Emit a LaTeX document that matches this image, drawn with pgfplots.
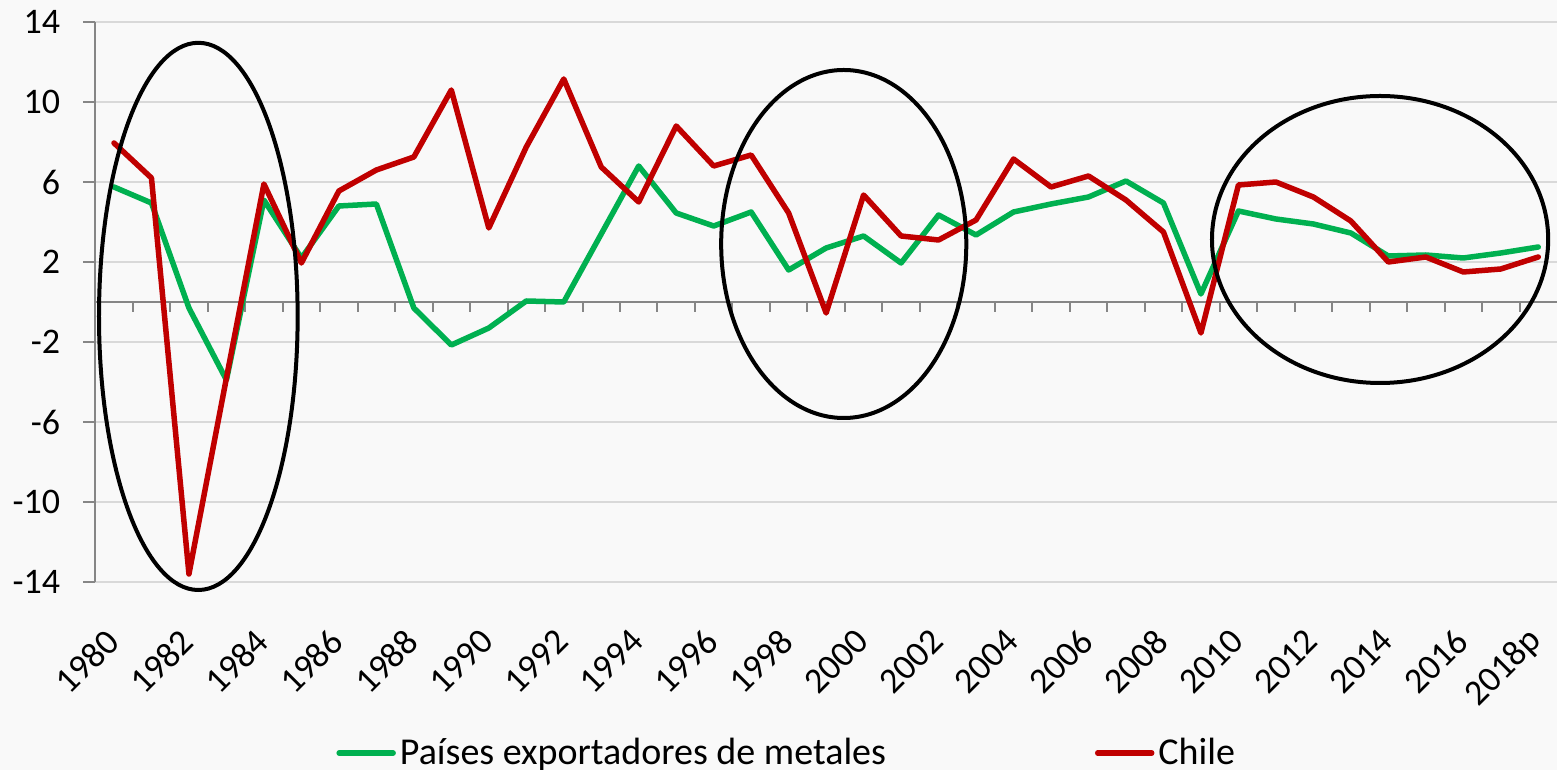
\documentclass[border=0pt]{standalone}
\usepackage{pgfplots}
\pgfplotsset{compat=1.18}
\usepackage{pgfplotstable}
\usepackage{fontspec}
\setmainfont{Carlito}
\definecolor{sgreen}{RGB}{0,176,80}
\definecolor{sred}{RGB}{192,0,0}
\definecolor{gridc}{RGB}{217,217,217}
\definecolor{axisc}{RGB}{134,134,134}
\definecolor{bgc}{RGB}{249,249,249}
\pgfplotstableread{
year g c
1980 5.75 7.95
1981 4.95 6.2
1982 -0.3 -13.6
1983 -3.9 -3.8
1984 5.1 5.9
1985 2.2 1.95
1986 4.8 5.55
1987 4.9 6.6
1988 -0.3 7.25
1989 -2.15 10.6
1990 -1.3 3.7
1991 0.05 7.75
1992 0.0 11.15
1993 3.4 6.75
1994 6.8 5.0
1995 4.45 8.8
1996 3.8 6.8
1997 4.5 7.35
1998 1.6 4.45
1999 2.7 -0.55
2000 3.3 5.35
2001 1.95 3.3
2002 4.35 3.1
2003 3.35 4.1
2004 4.5 7.15
2005 4.9 5.75
2006 5.25 6.3
2007 6.05 5.1
2008 4.95 3.5
2009 0.4 -1.55
2010 4.55 5.85
2011 4.15 6.0
2012 3.9 5.25
2013 3.45 4.05
2014 2.3 2.0
2015 2.35 2.25
2016 2.2 1.5
2017 2.45 1.65
2018 2.75 2.25
}\datatable
\begin{document}
\begin{tikzpicture}
\path[use as bounding box, fill=bgc] (0,0) rectangle (778.5pt,385pt);
\begin{axis}[
  at={(47.625pt,94pt)}, anchor=south west,
  scale only axis, width=730.875pt, height=280pt,
  xmin=1979.5, xmax=2018.5, ymin=-14, ymax=14,
  clip=false,
  axis y line*=left, axis x line*=bottom,
  axis line style={-},
  y axis line style={draw=axisc, line width=1pt},
  x axis line style={draw=gridc, line width=1pt},
  ytick={-14,-10,-6,-2,2,6,10,14},
  yticklabels={\mbox{-14},\mbox{-10},\mbox{-6},\mbox{-2},\mbox{2},\mbox{6},\mbox{10},\mbox{14}},
  xtick={1980,1982,...,2018},
  xticklabels={1980,1982,1984,1986,1988,1990,1992,1994,1996,1998,2000,2002,2004,2006,2008,2010,2012,2014,2016,2018p},
  ymajorgrids, grid style={draw=gridc, line width=1pt},
  tick align=outside,
  major tick length=6pt,
  y tick style={draw=axisc, line width=1pt},
  x tick style={draw=none},
  tick label style={font=\fontsize{18}{21}\selectfont},
  xticklabel style={rotate=45, anchor=east, inner sep=1pt},
  xticklabel shift=20pt,
  yticklabel shift=8pt,
  legend columns=2,
  legend style={at={(0.1647,-0.3054)}, anchor=west, draw=none, fill=none, inner sep=0pt,
    font=\fontsize{19}{22}\selectfont,
    /tikz/every even column/.append style={column sep=102.5pt}},
  legend cell align=left,
  legend image code/.code={\draw[#1, line width=2.75pt, line cap=round] (2pt,0pt) -- (29pt,0pt);},
]
\draw[axisc, line width=1pt] (axis cs:1979.5,0) -- (axis cs:2018.5,0);
\pgfplotsinvokeforeach{1980.5,1981.5,...,2017.5}{\draw[axisc, line width=1pt] (axis cs:#1,0) -- ++(0pt,-5pt);}
\addplot[sgreen, line width=2.75pt, line join=round, line cap=round] table[x=year,y=g]{\datatable};
\addlegendentry{Países exportadores de metales}
\addplot[sred, line width=2.75pt, line join=round, line cap=round] table[x=year,y=c]{\datatable};
\addlegendentry{Chile}
\draw[black, line width=2pt] (axis cs:1982.25,-0.72) ellipse [x radius=2.65, y radius=13.68];
\draw[black, line width=2pt] (axis cs:1999.47,2.9) ellipse [x radius=3.27, y radius=8.7];
\draw[black, line width=2pt] (axis cs:2013.78,3.125) ellipse [x radius=4.485, y radius=7.175];
\end{axis}
\end{tikzpicture}
\end{document}
